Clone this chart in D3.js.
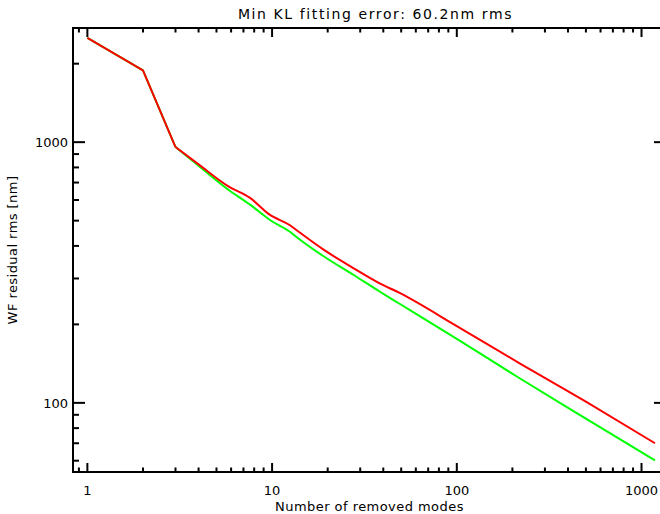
<!DOCTYPE html>
<html>
<head>
<meta charset="utf-8">
<script src="https://cdn.jsdelivr.net/npm/d3@7"></script>
<style>
  body { margin: 0; background: #fff; }
  svg { display: block; }
  text { font-family: "DejaVu Sans", sans-serif; fill: #000; }
</style>
</head>
<body>
<svg id="chart"></svg>
<script>
const width = 660;
const height = 514;

// values
const modes    = [1, 2, 3, 4, 5.8, 7.6, 9.7, 12.5, 14, 19, 27.5, 38, 49, 100, 220, 500, 1183];
const redRms   = [2510, 1884, 958, 822, 677, 611, 527, 480, 452, 387, 329, 288, 264, 197, 141.5, 101, 70];
const greenRms = [2510, 1884, 958, 812, 657, 576, 504, 453, 425, 365, 310, 268, 240, 176, 124, 87, 60.2];
const xTicks = [1, 10, 100, 1000];
const yTicks = [100, 1000];
const titleText = "Min KL fitting error: 60.2nm rms";
const xTitle = "Number of removed modes";
const yTitle = "WF residual rms [nm]";

const mLeft = 73, mRight = 666, mTop = 28, mBottom = 472;

const svg = d3.select("#chart")
    .attr("width", width)
    .attr("height", height);

const x = d3.scaleLog().domain([0.836, 1357]).range([mLeft, mRight]);
const y = d3.scaleLog().domain([54.3, 2741]).range([mBottom, mTop]);

// minor ticks: every integer multiple inside each decade
function minorTicks(scale) {
  const [a, b] = scale.domain();
  const out = [];
  for (let p = Math.floor(Math.log10(a)); p <= Math.ceil(Math.log10(b)); p++) {
    for (let m = 2; m < 10; m++) {
      const v = m * Math.pow(10, p);
      if (v >= a && v <= b) out.push(v);
    }
  }
  return out;
}

const axisG = svg.append("g").attr("stroke", "#000").attr("stroke-width", 2);

// frame
axisG.append("rect")
    .attr("x", mLeft).attr("y", mTop)
    .attr("width", mRight - mLeft).attr("height", mBottom - mTop)
    .attr("fill", "none");

// x ticks, bottom and top
[[mBottom, -1], [mTop, 1]].forEach(([yy, dir]) => {
  axisG.selectAll(null).data(xTicks).enter().append("line")
      .attr("x1", d => x(d)).attr("x2", d => x(d))
      .attr("y1", yy).attr("y2", yy + dir * 9);
  axisG.selectAll(null).data(minorTicks(x)).enter().append("line")
      .attr("x1", d => x(d)).attr("x2", d => x(d))
      .attr("y1", yy).attr("y2", yy + dir * 4.5);
});

// y ticks, left and right
[[mLeft, 1], [mRight, -1]].forEach(([xx, dir]) => {
  axisG.selectAll(null).data(yTicks).enter().append("line")
      .attr("y1", d => y(d)).attr("y2", d => y(d))
      .attr("x1", xx).attr("x2", xx + dir * 12);
  axisG.selectAll(null).data(minorTicks(y)).enter().append("line")
      .attr("y1", d => y(d)).attr("y2", d => y(d))
      .attr("x1", xx).attr("x2", xx + dir * 6);
});

// tick labels
svg.selectAll(".xl").data(xTicks).enter().append("text")
    .attr("x", d => x(d)).attr("y", 495)
    .attr("text-anchor", "middle").attr("font-size", 13)
    .text(d => d);

svg.selectAll(".yl").data(yTicks).enter().append("text")
    .attr("x", mLeft - 5).attr("y", d => y(d) + 5)
    .attr("text-anchor", "end").attr("font-size", 13)
    .text(d => d);

// lines: straight segments for the first integer modes, smooth after
const lin = d3.line().x(d => x(d[0])).y(d => y(d[1]));
const smooth = d3.line().x(d => x(d[0])).y(d => y(d[1])).curve(d3.curveMonotoneX);

function drawSeries(vals, color) {
  const pts = modes.map((m, i) => [m, vals[i]]);
  const g = svg.append("g").attr("fill", "none").attr("stroke", color)
      .attr("stroke-width", 2).attr("stroke-linejoin", "round");
  g.append("path").attr("d", lin(pts.slice(0, 3)));
  g.append("path").attr("d", smooth(pts.slice(2)));
}

drawSeries(greenRms, "#00ff00");
drawSeries(redRms, "#ff0000");

// titles
const cx = (mLeft + mRight) / 2;
svg.append("text")
    .attr("x", cx + 6).attr("y", 19)
    .attr("text-anchor", "middle").attr("font-size", 14)
    .attr("letter-spacing", 1.6)
    .text(titleText);

svg.append("text")
    .attr("x", cx).attr("y", 511)
    .attr("text-anchor", "middle").attr("font-size", 13)
    .attr("letter-spacing", 0.45)
    .text(xTitle);

svg.append("text")
    .attr("transform", `translate(17,${(mTop + mBottom) / 2}) rotate(-90)`)
    .attr("text-anchor", "middle").attr("font-size", 13)
    .attr("letter-spacing", 0.45)
    .text(yTitle);
</script>
</body>
</html>
